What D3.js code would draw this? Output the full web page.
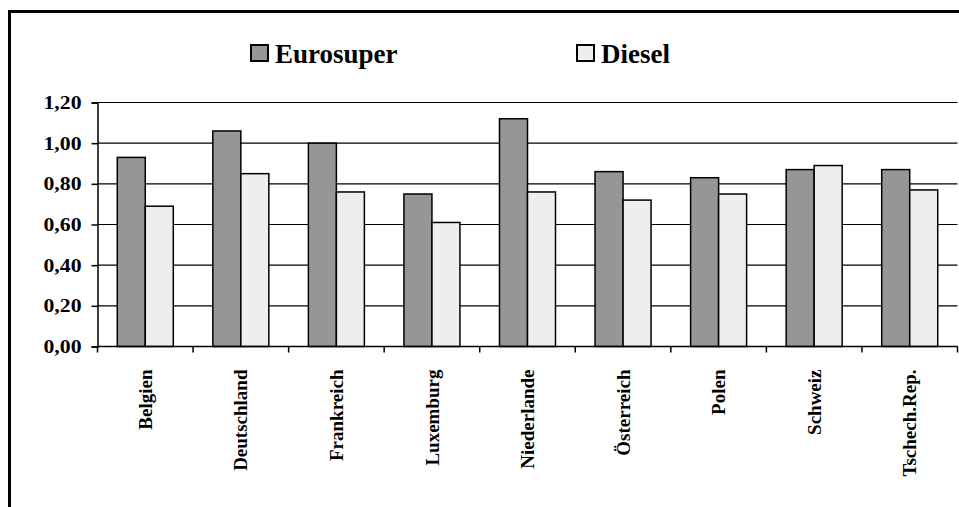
<!DOCTYPE html>
<html>
<head>
<meta charset="utf-8">
<script src="https://cdn.jsdelivr.net/npm/d3@7"></script>
<style>
  html, body { margin: 0; padding: 0; background: #fff; }
  svg { display: block; }
</style>
</head>
<body>
<svg id="chart" width="959" height="507"></svg>
<script>
// Kraftstoffpreise je Liter nach Land
const categories = ["Belgien", "Deutschland", "Frankreich", "Luxemburg", "Niederlande", "Österreich", "Polen", "Schweiz", "Tschech.Rep."];
const seriesNames = ["Eurosuper", "Diesel"];
const eurosuper = [0.93, 1.06, 1.00, 0.75, 1.12, 0.86, 0.83, 0.87, 0.87];
const diesel    = [0.69, 0.85, 0.76, 0.61, 0.76, 0.72, 0.75, 0.89, 0.77];
const yTicks = [0, 0.2, 0.4, 0.6, 0.8, 1.0, 1.2];
const seriesColors = ["#969696", "#eeeeee"];

const FONT = "'Liberation Serif', 'Times New Roman', Times, serif";

const svg = d3.select("#chart");

// outer frame
svg.append("rect")
  .attr("x", 9.5).attr("y", 11.5)
  .attr("width", 1000).attr("height", 600)
  .attr("fill", "#fff").attr("stroke", "#000").attr("stroke-width", 3);

const plot = { left: 97.5, right: 957.5, top: 102.5, bottom: 346.5 };

const x0 = d3.scaleBand().domain(categories).range([plot.left, plot.right]).padding(0);
const bw = x0.bandwidth();
const gap = bw * 0.207;
const x1 = d3.scaleBand().domain(seriesNames).range([gap, bw - gap]).padding(0);
const y = d3.scaleLinear().domain([0, 1.2]).range([plot.bottom, plot.top]);

const fmt = v => d3.format(".2f")(v).replace(".", ",");

// horizontal gridlines
svg.append("g")
  .selectAll("line")
  .data(yTicks.filter(t => t > 0))
  .join("line")
  .attr("x1", plot.left).attr("x2", plot.right)
  .attr("y1", d => y(d)).attr("y2", d => y(d))
  .attr("stroke", "#000").attr("stroke-width", 1.2);

// bars
const rows = categories.map((c, i) => ({ c, vals: [eurosuper[i], diesel[i]] }));
const groups = svg.append("g")
  .selectAll("g")
  .data(rows)
  .join("g")
  .attr("transform", d => `translate(${x0(d.c)},0)`);

groups.selectAll("rect")
  .data(d => d.vals.map((v, k) => ({ s: seriesNames[k], v, k })))
  .join("rect")
  .attr("x", d => x1(d.s))
  .attr("width", x1.bandwidth())
  .attr("y", d => y(d.v))
  .attr("height", d => y(0) - y(d.v))
  .attr("fill", d => seriesColors[d.k])
  .attr("stroke", "#000").attr("stroke-width", 1.5);

// y axis
const yAxis = d3.axisLeft(y).tickValues(yTicks).tickFormat(fmt).tickSize(6).tickPadding(10);
const gy = svg.append("g").attr("transform", `translate(${plot.left},0)`).call(yAxis);
gy.attr("font-family", null).attr("font-size", null);
gy.select(".domain").attr("stroke", "#000").attr("stroke-width", 1.5);
gy.selectAll(".tick line").attr("stroke", "#000").attr("stroke-width", 1.5);
gy.selectAll(".tick text")
  .style("font-family", FONT)
  .style("font-weight", "bold")
  .style("font-size", "19px")
  .attr("textLength", 38)
  .attr("lengthAdjust", "spacingAndGlyphs")
  .attr("fill", "#000");

// x axis with ticks at category boundaries
const gx = svg.append("g").attr("transform", `translate(0,${plot.bottom})`);
gx.append("line")
  .attr("x1", plot.left).attr("x2", plot.right)
  .attr("stroke", "#000").attr("stroke-width", 1.5);
const bounds = categories.map(c => x0(c)).concat([x0(categories[categories.length - 1]) + bw]);
gx.selectAll("line.tk")
  .data(bounds)
  .join("line")
  .attr("class", "tk")
  .attr("x1", d => d).attr("x2", d => d)
  .attr("y1", 0).attr("y2", 6)
  .attr("stroke", "#000").attr("stroke-width", 1.5);

// rotated category labels
gx.selectAll("text")
  .data(categories)
  .join("text")
  .attr("transform", d => `translate(${x0(d) + bw / 2},23) rotate(-90)`)
  .attr("text-anchor", "end")
  .attr("dy", "0.35em")
  .style("font-family", FONT)
  .style("font-weight", "bold")
  .style("font-size", "19px")
  .text(d => d);

// legend
const legendX = [250, 576];
const lg = svg.append("g")
  .selectAll("g")
  .data(seriesNames)
  .join("g")
  .attr("transform", (d, i) => `translate(${legendX[i]},44)`);
lg.append("rect")
  .attr("x", 1).attr("y", 1)
  .attr("width", 17).attr("height", 16)
  .attr("fill", (d, i) => seriesColors[i])
  .attr("stroke", "#000").attr("stroke-width", 2);
lg.append("text")
  .attr("x", 25).attr("y", 19)
  .style("font-family", FONT)
  .style("font-weight", "bold")
  .style("font-size", "27px")
  .text(d => d);
</script>
</body>
</html>
